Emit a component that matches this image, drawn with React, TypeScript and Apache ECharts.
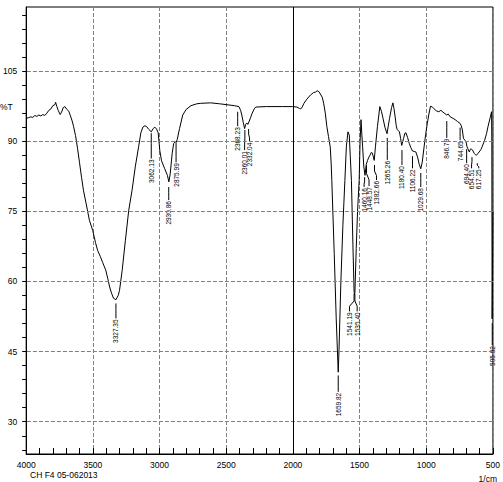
import React, { useEffect, useRef } from "react";
import * as echarts from "echarts";

// Spectrum: wavenumber (1/cm) and transmittance (%T)
const wavenumbers = [
  4000, 3985, 3965, 3950, 3935, 3920, 3905, 3890, 3875, 3860, 3845, 3830, 3815, 3800, 3785, 3779, 3770, 3760, 3745, 3735,
  3722, 3710, 3695, 3680, 3668, 3655, 3645, 3630, 3615, 3600, 3585, 3570, 3550, 3526, 3501, 3480, 3464, 3445, 3427, 3403,
  3388, 3374, 3360, 3345, 3327, 3310, 3300, 3280, 3256, 3231, 3206, 3182, 3157, 3140, 3125, 3110, 3096, 3080, 3062, 3048,
  3035, 3022, 3010, 2998, 2985, 2961, 2941, 2930, 2920, 2905, 2894, 2882, 2876, 2867, 2850, 2826, 2800, 2764, 2720, 2691,
  2617, 2550, 2494, 2440, 2405, 2392, 2383, 2372, 2362, 2354, 2346, 2338, 2330, 2318, 2305, 2290, 2278, 2199, 2077, 2003,
  1970, 1950, 1941, 1930, 1917, 1895, 1867, 1845, 1830, 1818, 1805, 1794, 1780, 1769, 1757, 1745, 1733, 1720, 1713, 1708,
  1690, 1675, 1660, 1654, 1640, 1625, 1610, 1599, 1587, 1577, 1570, 1561, 1550, 1541, 1538, 1535, 1525, 1515, 1503, 1496,
  1489, 1483, 1477, 1468, 1459, 1450, 1440, 1430, 1422, 1412, 1405, 1398, 1390, 1381, 1366, 1348, 1336, 1324, 1310, 1294,
  1285, 1275, 1260, 1250, 1242, 1233, 1225, 1218, 1201, 1192, 1184, 1170, 1160, 1152, 1140, 1127, 1115, 1103, 1090, 1078,
  1065, 1052, 1041, 1030, 1016, 1004, 992, 980, 968, 955, 943, 925, 906, 890, 874, 860, 846, 835, 820, 800,
  783, 765, 746, 737, 729, 721, 710, 702, 694, 686, 677, 670, 665, 659, 653, 640, 630, 623, 612, 603,
  590, 581, 562, 548, 537, 520, 510, 508, 505.92, 503, 500,
];
const transmittance = [
  94.9, 95.0, 95.2, 95.1, 95.5, 95.3, 95.6, 95.4, 95.7, 95.5, 96.0, 96.6, 96.9, 97.6, 97.8, 98.3, 97.4, 96.6, 95.7, 96.2,
  97.2, 97.4, 96.8, 96.4, 95.4, 94.3, 93.2, 91.2, 88.5, 85.4, 82.3, 79.4, 76.6, 73.1, 70.9, 68.3, 66.6, 65.4, 64.1, 62.4,
  60.6, 58.8, 57.5, 56.4, 56.1, 57.0, 58.1, 62.4, 68.8, 75.2, 79.5, 84.5, 88.8, 91.8, 93.0, 93.3, 93.1, 92.5, 92.0, 92.7,
  93.0, 92.6, 91.8, 88.0, 85.8, 84.1, 82.7, 81.3, 83.0, 87.4, 89.5, 89.9, 89.7, 90.4, 92.7, 95.6, 96.8, 97.6, 98.0, 98.1,
  98.2, 98.0, 97.8, 97.6, 97.4, 96.6, 95.6, 94.0, 92.7, 93.6, 93.9, 93.6, 94.1, 95.0, 96.0, 96.9, 97.3, 97.4, 97.4, 97.4,
  97.3, 97.0, 96.9, 97.3, 98.1, 99.0, 99.9, 100.4, 100.5, 100.8, 100.6, 100.1, 99.4, 98.1, 96.0, 93.1, 91.0, 88.8, 85.3, 81.6,
  66.0, 52.0, 40.6, 45.5, 60.0, 72.0, 81.6, 88.8, 92.0, 91.3, 87.0, 81.6, 68.0, 57.9, 57.2, 57.6, 67.0, 75.0, 81.6, 90.0,
  94.6, 91.5, 88.8, 84.5, 82.7, 85.0, 85.9, 86.6, 87.0, 87.6, 87.5, 86.8, 85.9, 88.8, 93.1, 97.4, 96.4, 94.9, 93.0, 91.6,
  93.2, 94.9, 97.2, 98.2, 97.0, 95.2, 93.3, 92.5, 92.0, 90.6, 89.1, 90.6, 91.7, 91.8, 90.8, 89.5, 88.6, 87.9, 87.8, 87.7,
  86.6, 85.0, 84.1, 85.5, 88.8, 91.5, 93.8, 95.8, 97.5, 97.3, 97.0, 96.5, 96.3, 96.6, 96.2, 95.9, 95.6, 95.8, 95.2, 94.9,
  94.6, 94.2, 93.8, 93.3, 92.4, 90.6, 90.2, 89.9, 88.8, 88.3, 87.7, 88.2, 88.4, 88.2, 88.1, 87.4, 87.1, 87.0, 87.4, 87.7,
  88.2, 88.8, 90.2, 91.6, 93.1, 95.1, 96.3, 90.0, 52.0, 60.0, 75.0,
];

// Peak labels
const peakText = [
  "3327.35", "3062.13", "2930.86", "2875.99", "2368.23", "2360.01", "2332.04", "1659.82", "1541.19", "1535.40",
  "1460.16", "1448.57", "1382.66", "1265.26", "1180.40", "1106.22", "1029.68", "846.79", "744.65", "694.40",
  "654.51", "617.25", "505.92",
];
const peakWn = [
  3327, 3062, 2931, 2876, 2414, 2360, 2332, 1660, 1541, 1535,
  1462, 1448, 1388, 1292, 1182, 1103, 1041, 846, 746, 697,
  657, 617, 505,
];
const labelWn = [
  3327, 3062, 2931, 2876, 2414, 2362, 2325, 1660, 1575, 1518,
  1466, 1429, 1373, 1292, 1182, 1103, 1041, 846, 746, 697,
  660, 606, 505,
];
const tickTopT = [
  55.3, 91.7, 80.2, 89.6, 96.3, 92.4, 92.6, 39.9, 57.3, 57.3,
  82.3, 84.9, 84.9, 90.7, 88.1, 86.8, 83.2, 94.3, 92.9, 88.3,
  86.6, 85.3, 51.1,
];
const textTopT = [
  52.1, 86.3, 77.4, 85.5, 93.2, 88.1, 89.9, 36.4, 53.6, 53.6,
  80.2, 80.4, 81.7, 86.0, 84.9, 84.2, 80.2, 90.7, 90.2, 85.3,
  84.2, 84.2, 46.4,
];

// Axes
const xMin = 500;
const xMax = 4000;
const yMin = 23.1;
const yMax = 118.7;
const yLabelValues = [30, 45, 60, 75, 90, 105];
const yTickValues = [
  24, 27, 30, 33, 36, 39, 42, 45, 48, 51, 54, 57, 60, 63, 66, 69, 72, 75, 78, 81, 84, 87, 90, 93, 96, 99, 102, 105,
  108, 111, 114, 117,
];
const xSolidLine = 2000;

const FONT = "'Liberation Sans', Arial, sans-serif";

export default function App() {
  const ref = useRef<HTMLDivElement>(null);

  useEffect(() => {
    if (!ref.current) return;
    const chart = echarts.init(ref.current, undefined, { renderer: "svg" });

    const spectrum = wavenumbers.map((w, i) => [w, transmittance[i]]);
    const labelRows = peakText.map((_, i) => [peakWn[i], tickTopT[i], labelWn[i], textTopT[i], i]);

    chart.setOption({
      animation: false,
      backgroundColor: "#ffffff",
      grid: {
        left: 22,
        right: 6,
        top: 7,
        bottom: 28,
        show: true,
        borderColor: "#000",
        borderWidth: 1,
        backgroundColor: "transparent",
      },
      xAxis: {
        type: "value",
        min: xMin,
        max: xMax,
        inverse: true,
        interval: 500,
        axisLine: { show: true, lineStyle: { color: "#000", width: 1 } },
        axisTick: { show: true, inside: true, length: 6, lineStyle: { color: "#000" } },
        minorTick: { show: true, splitNumber: 5, length: 6, lineStyle: { color: "#000" } },
        axisLabel: {
          color: "#000",
          fontSize: 8.5,
          fontFamily: FONT,
          margin: 6,
          formatter: (v: number) => String(v),
        },
        splitLine: { show: true, lineStyle: { color: "#808080", type: [4, 2], width: 1 } },
      },
      yAxis: {
        type: "value",
        min: yMin,
        max: yMax,
        axisLine: { show: true, lineStyle: { color: "#000", width: 1 } },
        axisTick: { show: true, length: 4, customValues: yTickValues, lineStyle: { color: "#000" } },
        axisLabel: {
          customValues: yLabelValues,
          color: "#000",
          fontSize: 8.5,
          fontFamily: FONT,
          margin: 9,
          formatter: (v: number) => String(v),
        },
        splitLine: { show: false },
      },
      graphic: [
        { type: "text", left: 0, top: 102, style: { text: "%T", fontSize: 8.5, fontFamily: FONT, fill: "#000" } },
        { type: "text", left: 30, top: 470, style: { text: "CH F4 05-062013", fontSize: 8.5, fontFamily: FONT, fill: "#000" } },
        { type: "text", right: 6, top: 474, style: { text: "1/cm", fontSize: 8.5, fontFamily: FONT, fill: "#000" } },
      ],
      series: [
        {
          type: "line",
          data: spectrum,
          showSymbol: false,
          symbol: "none",
          lineStyle: { color: "#000", width: 1 },
          clip: true,
          z: 3,
          markLine: {
            silent: true,
            symbol: "none",
            label: { show: false },
            data: [
              ...yLabelValues.map((v) => ({
                yAxis: v,
                lineStyle: { color: "#808080", type: [4, 2], width: 1 },
              })),
              { xAxis: xSolidLine, lineStyle: { color: "#000", type: "solid", width: 1 } },
            ],
          },
        },
        {
          type: "custom",
          data: labelRows,
          encode: { x: 0, y: 1 },
          clip: false,
          silent: true,
          z: 4,
          renderItem: (params: any, api: any) => {
            const i = params.dataIndex;
            const pw = api.value(0);
            const top = api.value(1);
            const lw = api.value(2);
            const ttop = api.value(3);
            const e1 = top + 0.4 * (ttop - top);
            const e2 = top + 0.7 * (ttop - top);
            const a = api.coord([pw, top]);
            const b = api.coord([pw, e1]);
            const c = api.coord([lw, e2]);
            const d = api.coord([lw, ttop]);
            return {
              type: "group",
              children: [
                {
                  type: "polyline",
                  shape: { points: [a, b, c, d] },
                  style: { stroke: "#000", fill: null, lineWidth: 1 },
                },
                {
                  type: "text",
                  x: d[0],
                  y: d[1] + 1,
                  rotation: Math.PI / 2,
                  style: {
                    text: peakText[i],
                    fontSize: 6.5,
                    fontFamily: FONT,
                    fill: "#000",
                    align: "right",
                    verticalAlign: "middle",
                  },
                },
              ],
            };
          },
        },
      ],
    });

    return () => chart.dispose();
  }, []);

  return (
    <div
      ref={ref}
      style={{ position: "fixed", left: 0, top: 0, width: 503, height: 482, background: "#fff" }}
    />
  );
}
